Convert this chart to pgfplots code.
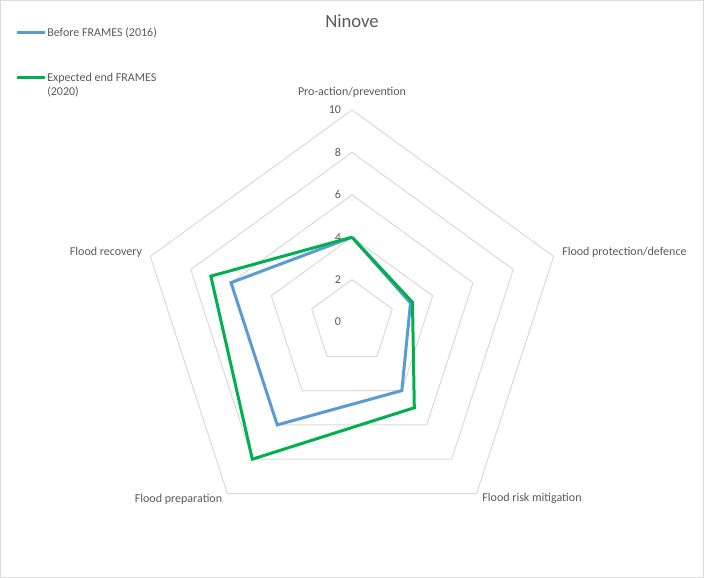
\documentclass[border=0pt]{standalone}
\usepackage{pgfplots}
\usepgfplotslibrary{polar}
\pgfplotsset{compat=1.18}
\usepackage{fontspec}
\setmainfont{Carlito}
\definecolor{gridc}{HTML}{D9D9D9}
\definecolor{txt}{HTML}{595959}
\definecolor{blueS}{HTML}{5B9BD5}
\definecolor{greenS}{HTML}{00B050}
\begin{document}
\begin{tikzpicture}[x=0.75pt,y=0.75pt]
\useasboundingbox (0,0) rectangle (704,578);
\draw[gridc, line width=0.75pt] (0.5,0.5) rectangle (703.5,577.5);
\begin{polaraxis}[
  at={(264pt,192pt)}, anchor=center,
  width=318pt, height=318pt, scale only axis,
  xmin=0, xmax=360, ymin=0, ymax=10,
  hide axis, clip=false,
]
\pgfplotsinvokeforeach{2,4,6,8,10}{
  \addplot[gridc, line width=0.75pt, forget plot] coordinates {(90,#1) (18,#1) (-54,#1) (-126,#1) (162,#1) (90,#1)};
}
\pgfplotsinvokeforeach{0,2,4,6,8,10}{
  \node[anchor=east, xshift=-8pt, text=txt, font=\fontsize{9}{11}\selectfont, inner sep=0pt] at (axis cs:90,#1) {#1};
}
% Before FRAMES (2016)
\addplot[blueS, line width=2.25pt, line join=miter] coordinates {(90,4) (18,2.9) (-54,4) (-126,6) (162,6) (90,4)};
% Expected end FRAMES (2020)
\addplot[greenS, line width=2.25pt, line join=miter] coordinates {(90,4) (18,3) (-54,5) (-126,8) (162,7) (90,4)};
\end{polaraxis}
\begin{scope}[every node/.style={text=txt, font=\fontsize{9}{11}\selectfont, inner sep=0pt}]
\node at (352,486) {Pro-action/prevention};
\node[anchor=west] at (562,326) {Flood protection/defence};
\node at (532,80) {Flood risk mitigation};
\node at (178.5,79) {Flood preparation};
\node at (106,326) {Flood recovery};
\node[anchor=west] at (47,545) {Before FRAMES (2016)};
\node[anchor=west] at (47,500) {Expected end FRAMES};
\node[anchor=west] at (47,486) {(2020)};
\node[font=\fontsize{14}{16}\selectfont] at (352,557) {Ninove};
\end{scope}
\draw[blueS, line width=2.25pt] (17,545) -- (45,545);
\draw[greenS, line width=2.25pt] (17,500) -- (45,500);
\end{tikzpicture}
\end{document}
